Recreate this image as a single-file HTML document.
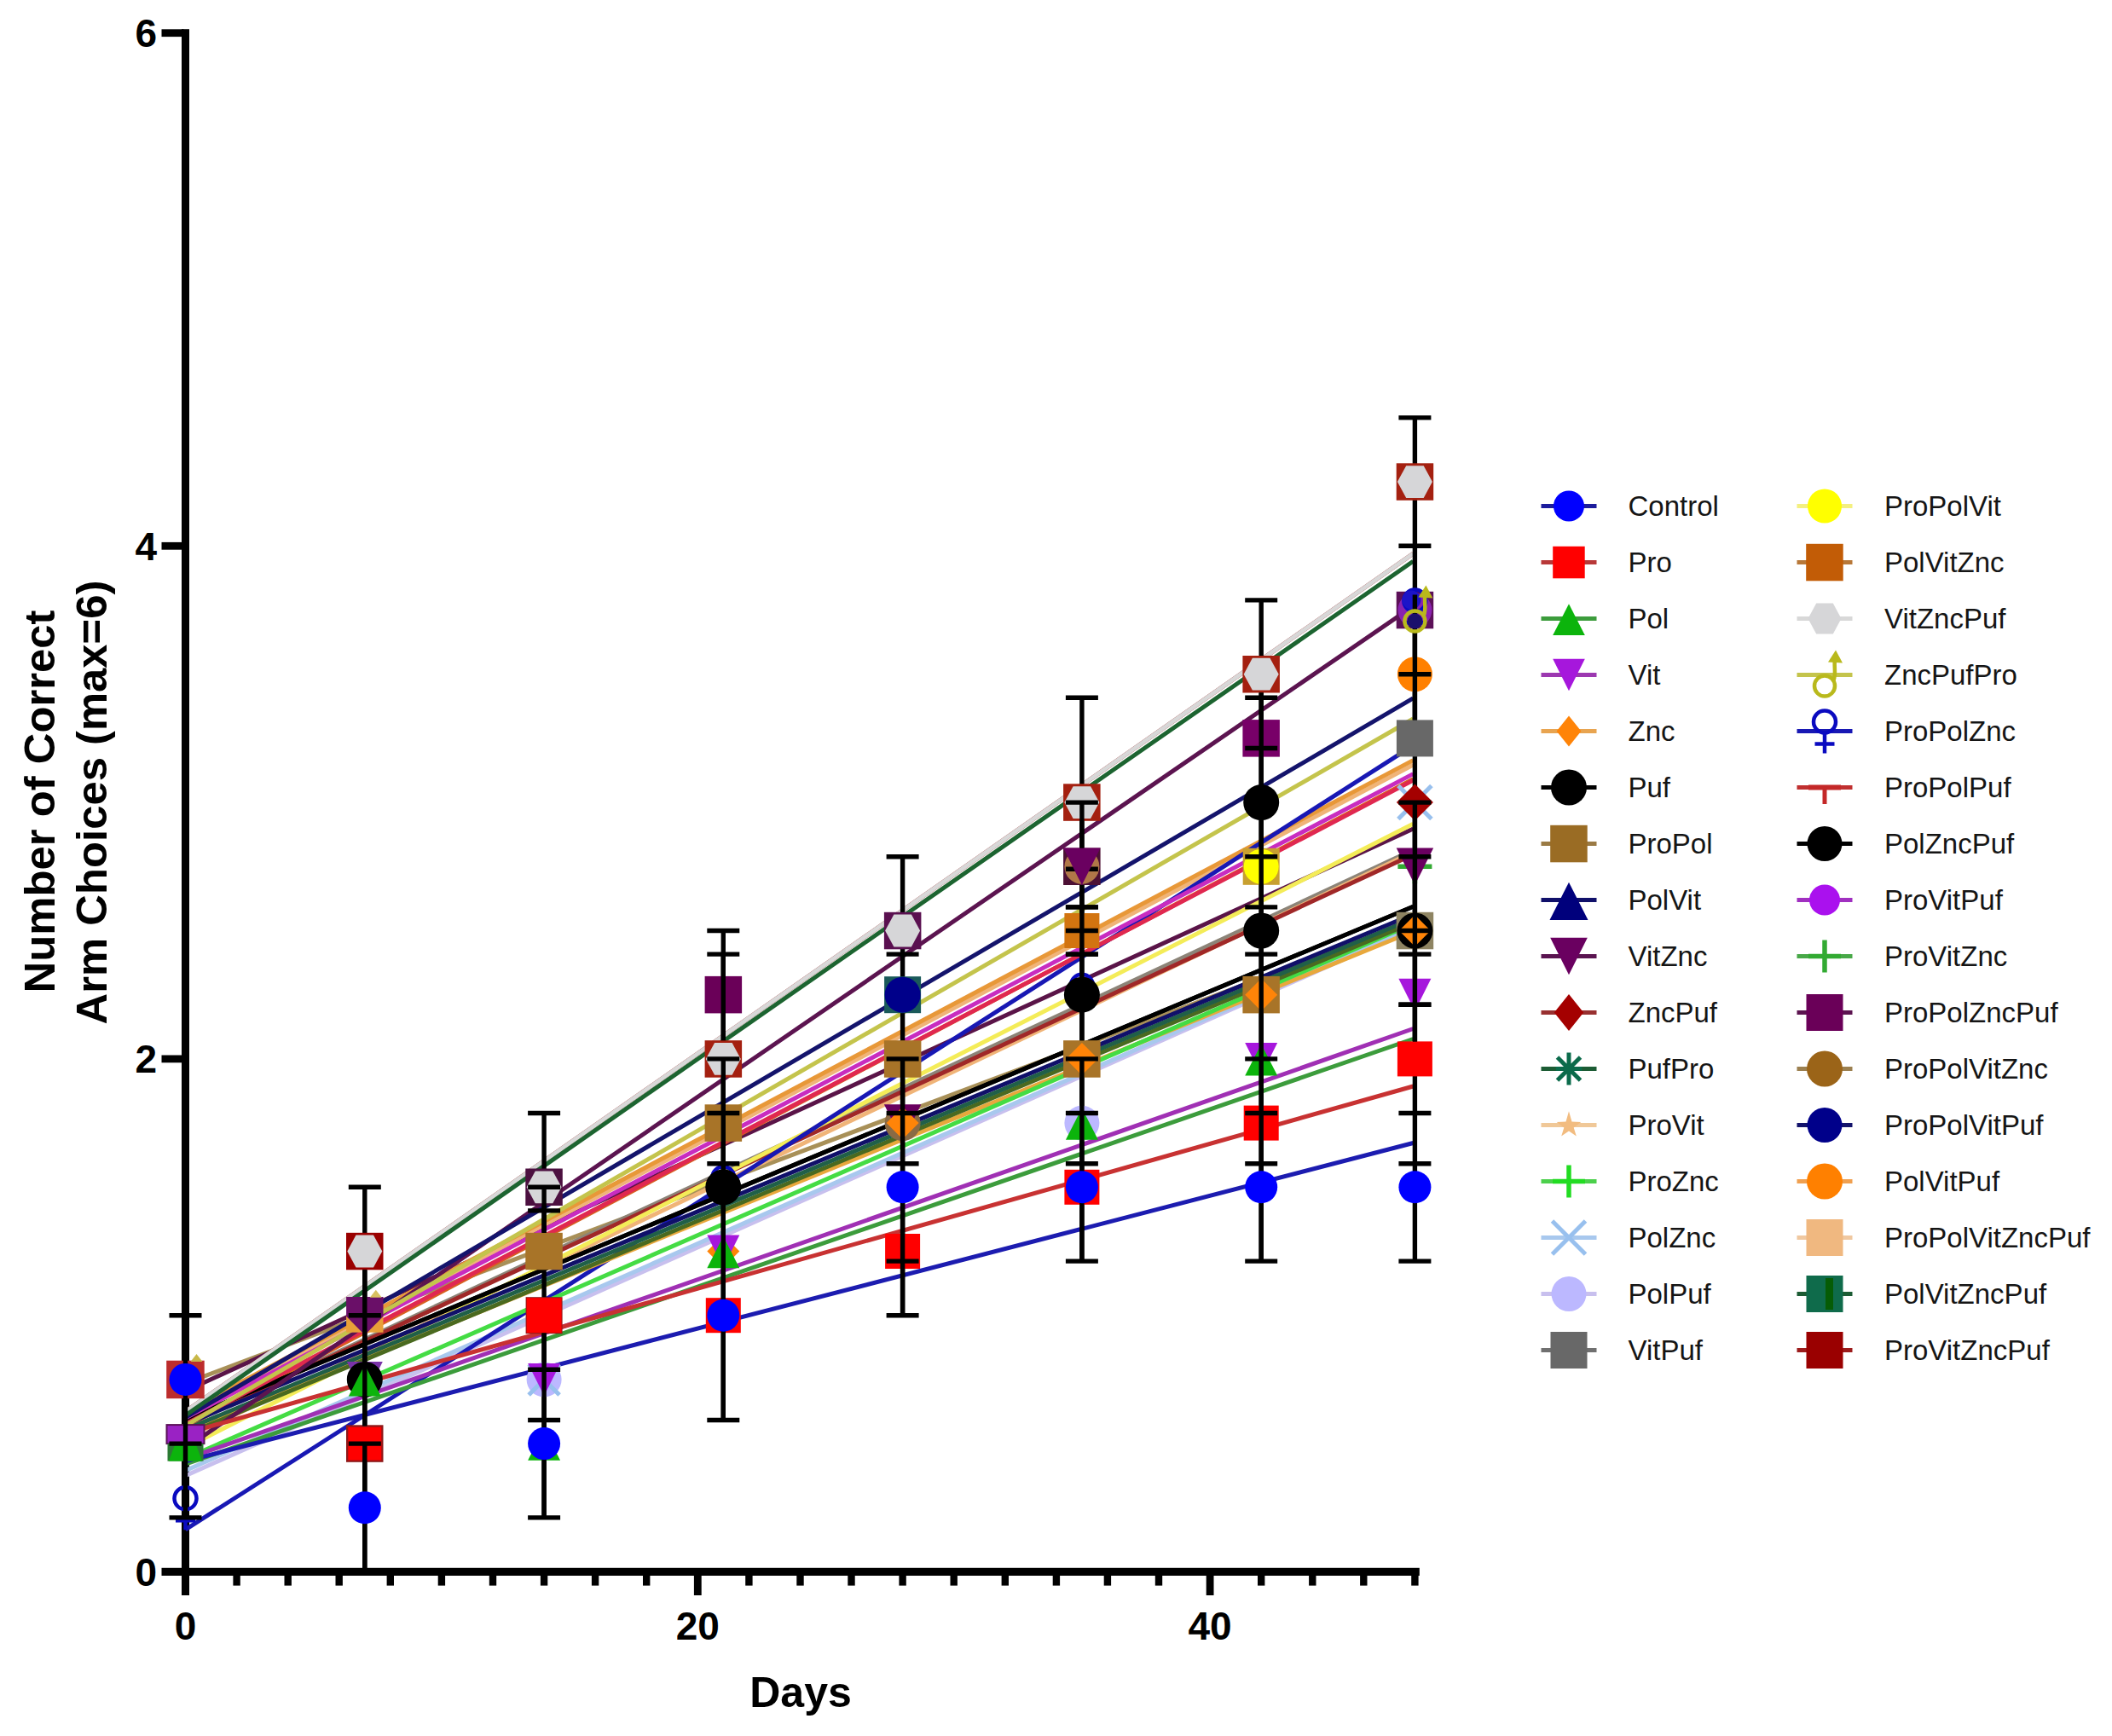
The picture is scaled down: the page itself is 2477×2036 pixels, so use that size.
<!DOCTYPE html>
<html lang="en"><head><meta charset="utf-8"><title>Number of Correct Arm Choices</title>
<style>html,body{margin:0;padding:0;background:#fff}svg{display:block}</style></head>
<body>
<svg width="2477" height="2036" viewBox="0 0 2477 2036" font-family="'Liberation Sans', Arial, sans-serif">
<rect width="2477" height="2036" fill="#ffffff"/>
<g fill="#000">
<rect x="213" y="34.2" width="9" height="1836.8"/>
<rect x="189.5" y="1838.8" width="1475.3" height="9.2"/>
<rect x="189.5" y="1237.5" width="26" height="8.8"/>
<rect x="189.5" y="635.9" width="26" height="8.8"/>
<rect x="189.5" y="34.3" width="26" height="8.8"/>
<rect x="273.4" y="1846" width="8.4" height="13.6"/>
<rect x="333.5" y="1846" width="8.4" height="13.6"/>
<rect x="393.5" y="1846" width="8.4" height="13.6"/>
<rect x="453.6" y="1846" width="8.4" height="13.6"/>
<rect x="513.7" y="1846" width="8.4" height="13.6"/>
<rect x="573.8" y="1846" width="8.4" height="13.6"/>
<rect x="633.9" y="1846" width="8.4" height="13.6"/>
<rect x="693.9" y="1846" width="8.4" height="13.6"/>
<rect x="754" y="1846" width="8.4" height="13.6"/>
<rect x="813.9" y="1846" width="8.8" height="25"/>
<rect x="874.2" y="1846" width="8.4" height="13.6"/>
<rect x="934.3" y="1846" width="8.4" height="13.6"/>
<rect x="994.3" y="1846" width="8.4" height="13.6"/>
<rect x="1054.4" y="1846" width="8.4" height="13.6"/>
<rect x="1114.5" y="1846" width="8.4" height="13.6"/>
<rect x="1174.6" y="1846" width="8.4" height="13.6"/>
<rect x="1234.7" y="1846" width="8.4" height="13.6"/>
<rect x="1294.7" y="1846" width="8.4" height="13.6"/>
<rect x="1354.8" y="1846" width="8.4" height="13.6"/>
<rect x="1414.7" y="1846" width="8.8" height="25"/>
<rect x="1475" y="1846" width="8.4" height="13.6"/>
<rect x="1535.1" y="1846" width="8.4" height="13.6"/>
<rect x="1595.1" y="1846" width="8.4" height="13.6"/>
<rect x="1655.2" y="1846" width="8.4" height="13.6"/>
</g>
<g font-weight="bold" font-size="46" fill="#000">
<text x="184" y="1860" text-anchor="end">0</text>
<text x="184" y="1258.4" text-anchor="end">2</text>
<text x="184" y="656.8" text-anchor="end">4</text>
<text x="184" y="55.2" text-anchor="end">6</text>
<text x="217.5" y="1922.5" text-anchor="middle">0</text>
<text x="818.3" y="1922.5" text-anchor="middle">20</text>
<text x="1419.1" y="1922.5" text-anchor="middle">40</text>
</g>
<text x="939" y="2002" text-anchor="middle" font-weight="bold" font-size="50" fill="#000">Days</text>
<g font-weight="bold" font-size="50.8" fill="#000" text-anchor="middle">
<text transform="translate(64,940) rotate(-90)">Number of Correct</text>
<text transform="translate(124.5,941) rotate(-90)">Arm Choices (max=6)</text>
</g>
<g fill="none" stroke-linecap="butt">
<line x1="217.5" y1="1622.4" x2="1657.4" y2="1080.2" stroke="#a89058" stroke-width="5.0"/>
<line x1="217.5" y1="1669" x2="1657.4" y2="996.8" stroke="#8c8478" stroke-width="5.0"/>
<line x1="217.5" y1="1687.1" x2="1657.4" y2="999.2" stroke="#f0b478" stroke-width="5.0"/>
<line x1="217.5" y1="1631.4" x2="1657.4" y2="972.1" stroke="#5a1448" stroke-width="5.0"/>
<line x1="217.5" y1="1730.7" x2="1657.4" y2="1088.8" stroke="#c8c0ee" stroke-width="5.0"/>
<line x1="217.5" y1="1724.7" x2="1657.4" y2="1087" stroke="#a8c8ee" stroke-width="5.0"/>
<line x1="217.5" y1="1673.5" x2="1657.4" y2="913.6" stroke="#d86020" stroke-width="5.0"/>
<line x1="217.5" y1="1659.4" x2="1657.4" y2="897" stroke="#f0b478" stroke-width="5.0"/>
<line x1="217.5" y1="1655.5" x2="1657.4" y2="891.6" stroke="#e89838" stroke-width="5.0"/>
<line x1="217.5" y1="1670.5" x2="1657.4" y2="1002.2" stroke="#a02828" stroke-width="5.0"/>
<line x1="217.5" y1="1697.9" x2="1657.4" y2="966.2" stroke="#f4ec58" stroke-width="5.0"/>
<line x1="217.5" y1="1793.9" x2="1657.4" y2="874.4" stroke="#1818b4" stroke-width="5.0"/>
<line x1="217.5" y1="1679.3" x2="1657.4" y2="1092.3" stroke="#e8a83c" stroke-width="5.0"/>
<line x1="217.5" y1="1710.5" x2="1657.4" y2="1083.3" stroke="#44dc44" stroke-width="5.0"/>
<line x1="217.5" y1="1682.6" x2="1657.4" y2="1081.8" stroke="#4a6a20" stroke-width="5.0"/>
<line x1="217.5" y1="1676.6" x2="1657.4" y2="1077.3" stroke="#206048" stroke-width="5.0"/>
<line x1="217.5" y1="1670.5" x2="1657.4" y2="1072.2" stroke="#10106a" stroke-width="5.0"/>
<line x1="217.5" y1="1664.2" x2="1657.4" y2="1063.2" stroke="#000000" stroke-width="5.0"/>
<line x1="217.5" y1="1664.2" x2="1657.4" y2="1063.2" stroke="#000000" stroke-width="5.0"/>
<line x1="217.5" y1="1663" x2="1657.4" y2="907.6" stroke="#c82cc0" stroke-width="5.0"/>
<line x1="217.5" y1="1670.2" x2="1657.4" y2="915.1" stroke="#e02850" stroke-width="5.0"/>
<line x1="217.5" y1="1698.5" x2="1657.4" y2="710.9" stroke="#5c1450" stroke-width="5.0"/>
<line x1="217.5" y1="1672" x2="1657.4" y2="843" stroke="#c4c44c" stroke-width="5.0"/>
<line x1="217.5" y1="1662.4" x2="1657.4" y2="818.9" stroke="#14146c" stroke-width="5.0"/>
<line x1="217.5" y1="1655.5" x2="1657.4" y2="649.2" stroke="#9c1c1c" stroke-width="5.0"/>
<line x1="217.5" y1="1655.5" x2="1657.4" y2="649.2" stroke="#d8d8d8" stroke-width="5.0"/>
<line x1="217.5" y1="1660" x2="1657.4" y2="658.2" stroke="#1c6430" stroke-width="5.0"/>
<line x1="217.5" y1="1711.1" x2="1657.4" y2="1206.5" stroke="#a030b4" stroke-width="5.0"/>
<line x1="217.5" y1="1717.2" x2="1657.4" y2="1218.5" stroke="#3c9c3c" stroke-width="5.0"/>
<line x1="217.5" y1="1681.1" x2="1657.4" y2="1274" stroke="#c83232" stroke-width="5.0"/>
<line x1="217.5" y1="1713.9" x2="1657.4" y2="1340.5" stroke="#1c1cb0" stroke-width="5.0"/>
</g>
<rect x="195.5" y="1671.1" width="44" height="22" fill="#9a22c4"/>
<rect x="195.5" y="1671.1" width="44" height="22" fill="none" stroke="#5a1058" stroke-width="2"/>
<rect x="196.5" y="1693.1" width="42" height="20.5" fill="#2c7a34"/>
<polygon points="205.5,1693.1 229.5,1693.1 237,1713.6 198,1713.6" fill="#0cb40c"/>
<rect x="195.2" y="1595.7" width="44.5" height="44.5" fill="#bc2c2c"/>
<polygon points="230.5,1587.9 237.5,1596.9 223.5,1596.9" fill="#c8b848"/>
<g stroke="#0a0ac0" stroke-width="4.5" fill="none"><circle cx="217.5" cy="1757.3" r="13"/><line x1="217.5" y1="1770.3" x2="217.5" y2="1794.3"/><line x1="206" y1="1783.3" x2="229" y2="1783.3"/></g>
<g stroke="#000" stroke-width="5.4"><line x1="217.5" y1="1779.9" x2="217.5" y2="1542.7"/><line x1="198.5" y1="1779.9" x2="236.5" y2="1779.9"/><line x1="198.5" y1="1693.1" x2="236.5" y2="1693.1"/><line x1="198.5" y1="1542.7" x2="236.5" y2="1542.7"/></g>
<circle cx="217.5" cy="1617.9" r="19" fill="#0000ff"/>
<g stroke="#000" stroke-width="5.4"><line x1="427.8" y1="1843.5" x2="427.8" y2="1392.3"/><line x1="408.8" y1="1392.3" x2="446.8" y2="1392.3"/></g>
<rect x="406.1" y="1542.7" width="43.4" height="20" fill="#e8a038"/>
<polygon points="406.1,1521 449.5,1521 449.5,1543.7 427.8,1565.7 406.1,1543.7" fill="#6a0f68"/>
<polygon points="440.8,1512.7 447.8,1521.7 433.8,1521.7" fill="#d8c060"/>
<rect x="406" y="1445.8" width="43.5" height="43.5" fill="#9a0000"/>
<polygon points="407.3,1467.5 417.5,1448.6 438,1448.6 448.3,1467.5 438,1486.4 417.5,1486.4" fill="#d6d6d8"/>
<polygon points="406.8,1596.9 448.8,1596.9 427.8,1638.9" fill="#7a32a8"/>
<circle cx="427.8" cy="1617.9" r="21" fill="#000000"/>
<polygon points="427.8,1600.4 446.8,1637.6 408.8,1637.6" fill="#0cb40c"/>
<rect x="406" y="1671.3" width="43.5" height="43.5" fill="#8e1818"/>
<rect x="408.3" y="1673.6" width="39" height="39" fill="#ff0000"/>
<g stroke="#000" stroke-width="5.4"><line x1="427.8" y1="1843.5" x2="427.8" y2="1693.1"/><line x1="427.8" y1="1672.6" x2="427.8" y2="1489.2"/><line x1="408.8" y1="1542.7" x2="446.8" y2="1542.7"/><line x1="408.8" y1="1693.1" x2="446.8" y2="1693.1"/></g>
<circle cx="427.8" cy="1768.3" r="19" fill="#0000ff"/>
<g stroke="#000" stroke-width="5.4"><line x1="638.1" y1="1779.9" x2="638.1" y2="1305.5"/><line x1="619.1" y1="1305.5" x2="657.1" y2="1305.5"/><line x1="619.1" y1="1419.9" x2="657.1" y2="1419.9"/><line x1="619.1" y1="1665.5" x2="657.1" y2="1665.5"/><line x1="619.1" y1="1779.9" x2="657.1" y2="1779.9"/></g>
<rect x="616.3" y="1370.5" width="43.5" height="43.5" fill="#4c1040"/>
<polygon points="617.6,1392.3 627.8,1373.4 648.3,1373.4 658.6,1392.3 648.3,1411.2 627.8,1411.2" fill="#d6d6d8"/>
<rect x="616.3" y="1445.8" width="43.5" height="43.5" fill="#a87428"/>
<rect x="616.6" y="1521.2" width="43" height="43" fill="#8e1818"/>
<rect x="617.6" y="1522.2" width="41" height="41" fill="#ff0000"/>
<circle cx="638.1" cy="1617.9" r="20.5" fill="#bcb8ff"/>
<g stroke="#98c0ee" stroke-width="5"><line x1="620.1" y1="1599.9" x2="656.1" y2="1635.9"/><line x1="620.1" y1="1635.9" x2="656.1" y2="1599.9"/></g>
<polygon points="619.1,1598.9 657.1,1598.9 638.1,1636.9" fill="#a617dc"/>
<polygon points="638.1,1675.6 657.1,1712.8 619.1,1712.8" fill="#0cb40c"/>
<g stroke="#000" stroke-width="5.4"><line x1="638.1" y1="1445.8" x2="638.1" y2="1392.3"/><line x1="638.1" y1="1779.9" x2="638.1" y2="1563.2"/><line x1="619.1" y1="1392.3" x2="657.1" y2="1392.3"/><line x1="619.1" y1="1606.3" x2="657.1" y2="1606.3"/></g>
<circle cx="638.1" cy="1693.1" r="19" fill="#0000ff"/>
<g stroke="#000" stroke-width="5.4"><line x1="848.3" y1="1665.5" x2="848.3" y2="1091.5"/><line x1="829.3" y1="1091.5" x2="867.3" y2="1091.5"/><line x1="829.3" y1="1119.1" x2="867.3" y2="1119.1"/><line x1="829.3" y1="1665.5" x2="867.3" y2="1665.5"/></g>
<rect x="826.6" y="1144.9" width="43.5" height="43.5" fill="#6a0058"/>
<rect x="826.6" y="1220.2" width="43.5" height="43.5" fill="#a42010"/>
<polygon points="827.8,1241.9 838.1,1223 858.6,1223 868.8,1241.9 858.6,1260.8 838.1,1260.8" fill="#d6d6d8"/>
<rect x="826.6" y="1295.3" width="43.5" height="43.5" fill="#a87428"/>
<circle cx="848.3" cy="1381.3" r="13" stroke="#0a0ac0" stroke-width="4.5" fill="none"/>
<circle cx="848.3" cy="1392.3" r="21" fill="#000000"/>
<polygon points="848.3,1448.5 867.3,1467.5 848.3,1486.5 829.3,1467.5" fill="#ff8408"/>
<polygon points="829.3,1448.5 867.3,1448.5 848.3,1486.5" fill="#a617dc"/>
<polygon points="848.3,1450 867.3,1487.2 829.3,1487.2" fill="#0cb40c"/>
<rect x="827.8" y="1522.2" width="41" height="41" fill="#ff0000"/>
<g stroke="#000" stroke-width="5.4"><line x1="848.3" y1="1665.5" x2="848.3" y2="1241.9"/><line x1="848.3" y1="1220.2" x2="848.3" y2="1119.1"/><line x1="829.3" y1="1241.9" x2="867.3" y2="1241.9"/><line x1="829.3" y1="1305.5" x2="867.3" y2="1305.5"/><line x1="829.3" y1="1364.7" x2="867.3" y2="1364.7"/></g>
<circle cx="848.3" cy="1542.7" r="19" fill="#0000ff"/>
<g stroke="#000" stroke-width="5.4"><line x1="1058.6" y1="1542.7" x2="1058.6" y2="1004.7"/><line x1="1039.6" y1="1004.7" x2="1077.6" y2="1004.7"/><line x1="1039.6" y1="1119.1" x2="1077.6" y2="1119.1"/><line x1="1039.6" y1="1542.7" x2="1077.6" y2="1542.7"/></g>
<rect x="1036.9" y="1069.8" width="43.5" height="43.5" fill="#5a1050"/>
<polygon points="1038.1,1091.5 1048.4,1072.6 1068.9,1072.6 1079.1,1091.5 1068.9,1110.4 1048.4,1110.4" fill="#d6d6d8"/>
<rect x="1037.1" y="1145.2" width="43" height="43" fill="#1a5a5a"/>
<circle cx="1058.6" cy="1166.7" r="21" fill="#00008a"/>
<rect x="1036.9" y="1220.2" width="43.5" height="43.5" fill="#a87428"/>
<circle cx="1058.6" cy="1317.1" r="21" fill="#8a6a44"/>
<polygon points="1036.9,1295.3 1080.4,1295.3 1058.6,1338.8" fill="#6a0060"/>
<polygon points="1058.6,1298.1 1077.6,1317.1 1058.6,1336.1 1039.6,1317.1" fill="#ff8408"/>
<rect x="1038.1" y="1447" width="41" height="41" fill="#ff0000"/>
<g stroke="#000" stroke-width="5.4"><line x1="1058.6" y1="1542.7" x2="1058.6" y2="1241.9"/><line x1="1039.6" y1="1241.9" x2="1077.6" y2="1241.9"/><line x1="1039.6" y1="1305.5" x2="1077.6" y2="1305.5"/><line x1="1039.6" y1="1364.7" x2="1077.6" y2="1364.7"/><line x1="1039.6" y1="1479.1" x2="1077.6" y2="1479.1"/></g>
<circle cx="1058.6" cy="1392.3" r="19" fill="#0000ff"/>
<g stroke="#000" stroke-width="5.4"><line x1="1268.9" y1="1479.1" x2="1268.9" y2="818.3"/><line x1="1249.9" y1="818.3" x2="1287.9" y2="818.3"/><line x1="1249.9" y1="1063.9" x2="1287.9" y2="1063.9"/><line x1="1249.9" y1="1119.1" x2="1287.9" y2="1119.1"/><line x1="1249.9" y1="1479.1" x2="1287.9" y2="1479.1"/></g>
<rect x="1247.1" y="919.3" width="43.5" height="43.5" fill="#a42010"/>
<polygon points="1248.4,941.1 1258.6,922.2 1279.1,922.2 1289.4,941.1 1279.1,960 1258.6,960" fill="#d6d6d8"/>
<rect x="1247.1" y="994.5" width="43.5" height="43.5" fill="#4c1034"/>
<circle cx="1268.9" cy="1016.3" r="20.5" fill="#b07848"/>
<g stroke="#000" stroke-width="5.4"><line x1="1249.9" y1="1019.3" x2="1287.9" y2="1019.3"/></g>
<polygon points="1247.1,994.5 1290.6,994.5 1268.9,1038" fill="#6a0060"/>
<rect x="1248.4" y="1071" width="41" height="41" fill="#d27410"/>
<circle cx="1268.9" cy="1155.7" r="13" stroke="#0a0ac0" stroke-width="4.5" fill="none"/>
<circle cx="1268.9" cy="1166.7" r="21" fill="#000000"/>
<rect x="1247.1" y="1220.2" width="43.5" height="43.5" fill="#a87428"/>
<polygon points="1268.9,1222.9 1287.9,1241.9 1268.9,1260.9 1249.9,1241.9" fill="#ff8408"/>
<circle cx="1268.9" cy="1317.1" r="20.5" fill="#bcb8ff"/>
<polygon points="1268.9,1299.6 1287.9,1336.8 1249.9,1336.8" fill="#0cb40c"/>
<rect x="1248.4" y="1371.8" width="41" height="41" fill="#ff0000"/>
<g stroke="#000" stroke-width="5.4"><line x1="1268.9" y1="1479.1" x2="1268.9" y2="1241.9"/><line x1="1268.9" y1="1220.2" x2="1268.9" y2="1038"/><line x1="1268.9" y1="994.6" x2="1268.9" y2="941.1"/><line x1="1249.9" y1="941.1" x2="1287.9" y2="941.1"/><line x1="1249.9" y1="1063.9" x2="1287.9" y2="1063.9"/><line x1="1249.9" y1="1091.5" x2="1287.9" y2="1091.5"/><line x1="1249.9" y1="1119.1" x2="1287.9" y2="1119.1"/><line x1="1249.9" y1="1241.9" x2="1287.9" y2="1241.9"/><line x1="1249.9" y1="1305.5" x2="1287.9" y2="1305.5"/><line x1="1249.9" y1="1364.7" x2="1287.9" y2="1364.7"/></g>
<circle cx="1268.9" cy="1392.3" r="19" fill="#0000ff"/>
<g stroke="#000" stroke-width="5.4"><line x1="1479.2" y1="1479.1" x2="1479.2" y2="703.9"/><line x1="1460.2" y1="703.9" x2="1498.2" y2="703.9"/><line x1="1460.2" y1="818.3" x2="1498.2" y2="818.3"/><line x1="1460.2" y1="1479.1" x2="1498.2" y2="1479.1"/></g>
<rect x="1457.4" y="769" width="43.5" height="43.5" fill="#a42010"/>
<polygon points="1458.7,790.7 1468.9,771.8 1489.4,771.8 1499.7,790.7 1489.4,809.6 1468.9,809.6" fill="#d6d6d8"/>
<rect x="1457.4" y="844.1" width="43.5" height="43.5" fill="#780068"/>
<circle cx="1479.2" cy="941.1" r="21" fill="#000000"/>
<rect x="1457.7" y="994.8" width="43" height="43" fill="#c8a030"/>
<circle cx="1479.2" cy="1016.3" r="20.5" fill="#ffff00"/>
<circle cx="1479.2" cy="1091.5" r="21" fill="#000000"/>
<rect x="1457.4" y="1144.9" width="43.5" height="43.5" fill="#a87428"/>
<polygon points="1479.2,1147.7 1498.2,1166.7 1479.2,1185.7 1460.2,1166.7" fill="#ff8408"/>
<polygon points="1460.2,1222.9 1498.2,1222.9 1479.2,1260.9" fill="#a617dc"/>
<polygon points="1479.2,1224.4 1498.2,1261.6 1460.2,1261.6" fill="#0cb40c"/>
<rect x="1458.7" y="1296.6" width="41" height="41" fill="#ff0000"/>
<g stroke="#000" stroke-width="5.4"><line x1="1479.2" y1="1479.1" x2="1479.2" y2="812.4"/><line x1="1460.2" y1="877.5" x2="1498.2" y2="877.5"/><line x1="1460.2" y1="1004.7" x2="1498.2" y2="1004.7"/><line x1="1460.2" y1="1063.9" x2="1498.2" y2="1063.9"/><line x1="1460.2" y1="1119.1" x2="1498.2" y2="1119.1"/><line x1="1460.2" y1="1241.9" x2="1498.2" y2="1241.9"/><line x1="1460.2" y1="1305.5" x2="1498.2" y2="1305.5"/><line x1="1460.2" y1="1364.7" x2="1498.2" y2="1364.7"/></g>
<circle cx="1479.2" cy="1392.3" r="19" fill="#0000ff"/>
<g stroke="#000" stroke-width="5.4"><line x1="1659.4" y1="1479.1" x2="1659.4" y2="489.9"/><line x1="1640.4" y1="489.9" x2="1678.4" y2="489.9"/><line x1="1640.4" y1="640.3" x2="1678.4" y2="640.3"/><line x1="1640.4" y1="1119.1" x2="1678.4" y2="1119.1"/><line x1="1640.4" y1="1178.3" x2="1678.4" y2="1178.3"/><line x1="1640.4" y1="1305.5" x2="1678.4" y2="1305.5"/><line x1="1640.4" y1="1364.7" x2="1678.4" y2="1364.7"/><line x1="1640.4" y1="1479.1" x2="1678.4" y2="1479.1"/></g>
<rect x="1637.7" y="543.3" width="43.5" height="43.5" fill="#a42010"/>
<polygon points="1638.9,565.1 1649.2,546.2 1669.7,546.2 1679.9,565.1 1669.7,584 1649.2,584" fill="#d6d6d8"/>
<rect x="1637.7" y="693.8" width="43.5" height="43.5" fill="#5c1058"/>
<circle cx="1659.4" cy="715.5" r="20" fill="#8a22b0"/>
<g stroke="#0a0ac0" stroke-width="4.5" fill="none"><circle cx="1659.4" cy="704.5" r="13"/><line x1="1659.4" y1="717.5" x2="1659.4" y2="741.5"/><line x1="1647.9" y1="730.5" x2="1670.9" y2="730.5"/></g>
<circle cx="1655.4" cy="703.5" r="11" fill="#1c14c8"/>
<circle cx="1659.4" cy="790.7" r="20.5" fill="#ff8000"/>
<rect x="1637.9" y="844.4" width="43" height="43" fill="#686868"/>
<g stroke="#98c0ee" stroke-width="5"><line x1="1639.9" y1="921.6" x2="1678.9" y2="960.6"/><line x1="1639.9" y1="960.6" x2="1678.9" y2="921.6"/></g>
<polygon points="1659.4,919.6 1680.9,941.1 1659.4,962.6 1637.9,941.1" fill="#a40000"/>
<g stroke="#32aa32" stroke-width="5.5"><line x1="1659.4" y1="996.3" x2="1659.4" y2="1036.3"/><line x1="1639.4" y1="1016.3" x2="1679.4" y2="1016.3"/></g>
<polygon points="1637.7,994.5 1681.2,994.5 1659.4,1038" fill="#6a0060"/>
<rect x="1637.7" y="1069.8" width="43.5" height="43.5" fill="#8e8462"/>
<circle cx="1659.4" cy="1091.5" r="21" fill="#000000"/>
<polygon points="1659.4,1073 1677.9,1091.5 1659.4,1110 1640.9,1091.5" fill="#ff8408"/>
<polygon points="1640.4,1147.7 1678.4,1147.7 1659.4,1185.7" fill="#a617dc"/>
<rect x="1638.9" y="1221.4" width="41" height="41" fill="#ff0000"/>
<g stroke="#000" stroke-width="5.4"><line x1="1659.4" y1="1221.4" x2="1659.4" y2="941.1"/><line x1="1659.4" y1="844.2" x2="1659.4" y2="697.5"/><line x1="1640.4" y1="790.7" x2="1678.4" y2="790.7"/><line x1="1640.4" y1="941.1" x2="1678.4" y2="941.1"/><line x1="1640.4" y1="1004.7" x2="1678.4" y2="1004.7"/><line x1="1640.4" y1="1091.5" x2="1678.4" y2="1091.5"/><line x1="1640.4" y1="1178.3" x2="1678.4" y2="1178.3"/></g>
<g stroke="#b9b91c" stroke-width="4.5" fill="none" stroke-linecap="round"><circle cx="1659.4" cy="728.5" r="12"/><path d="M1669.9,721.5 C1673.4,713.5 1669.4,703.5 1671.9,694.5"/><polygon points="1672.4,686.5 1680.4,701.5 1663.4,700.5" fill="#b9b91c" stroke="none"/></g>
<circle cx="1659.4" cy="728.5" r="9" fill="#1a106c"/>
<circle cx="1659.4" cy="1392.3" r="19" fill="#0000ff"/>
<g>
<line x1="1807.5" y1="593.5" x2="1872.5" y2="593.5" stroke="#1c1c9c" stroke-width="5"/>
<circle cx="1840" cy="593.5" r="18" fill="#0000ff"/>
<text x="1909.5" y="605" font-size="33" fill="#151515">Control</text>
<line x1="1807.5" y1="659.5" x2="1872.5" y2="659.5" stroke="#b83838" stroke-width="5"/>
<rect x="1821.2" y="640.8" width="37.5" height="37.5" fill="#ff0000"/>
<text x="1909.5" y="671" font-size="33" fill="#151515">Pro</text>
<line x1="1807.5" y1="725.5" x2="1872.5" y2="725.5" stroke="#3c9c3c" stroke-width="5"/>
<polygon points="1840,708.2 1858.8,745 1821.2,745" fill="#0cb40c"/>
<text x="1909.5" y="737" font-size="33" fill="#151515">Pol</text>
<line x1="1807.5" y1="791.5" x2="1872.5" y2="791.5" stroke="#9c38b0" stroke-width="5"/>
<polygon points="1821.2,772.8 1858.8,772.8 1840,810.2" fill="#a617dc"/>
<text x="1909.5" y="803" font-size="33" fill="#151515">Vit</text>
<line x1="1807.5" y1="857.5" x2="1872.5" y2="857.5" stroke="#e8a450" stroke-width="5"/>
<polygon points="1840,839.5 1854.4,857.5 1840,875.5 1825.6,857.5" fill="#ff8408"/>
<text x="1909.5" y="869" font-size="33" fill="#151515">Znc</text>
<line x1="1807.5" y1="923.5" x2="1872.5" y2="923.5" stroke="#000000" stroke-width="5"/>
<circle cx="1840" cy="923.5" r="21" fill="#000000"/>
<text x="1909.5" y="935" font-size="33" fill="#151515">Puf</text>
<line x1="1807.5" y1="989.5" x2="1872.5" y2="989.5" stroke="#9a7a44" stroke-width="5"/>
<rect x="1818.2" y="967.8" width="43.5" height="43.5" fill="#9a6c24"/>
<text x="1909.5" y="1001" font-size="33" fill="#151515">ProPol</text>
<line x1="1807.5" y1="1055.5" x2="1872.5" y2="1055.5" stroke="#10106a" stroke-width="5"/>
<polygon points="1840,1034.8 1862.5,1078.9 1817.5,1078.9" fill="#00007c"/>
<text x="1909.5" y="1067" font-size="33" fill="#151515">PolVit</text>
<line x1="1807.5" y1="1121.5" x2="1872.5" y2="1121.5" stroke="#5a1450" stroke-width="5"/>
<polygon points="1818.2,1099.8 1861.8,1099.8 1840,1143.2" fill="#6a0060"/>
<text x="1909.5" y="1133" font-size="33" fill="#151515">VitZnc</text>
<line x1="1807.5" y1="1187.5" x2="1872.5" y2="1187.5" stroke="#983030" stroke-width="5"/>
<polygon points="1840,1166 1857.2,1187.5 1840,1209 1822.8,1187.5" fill="#a40000"/>
<text x="1909.5" y="1199" font-size="33" fill="#151515">ZncPuf</text>
<line x1="1807.5" y1="1253.5" x2="1872.5" y2="1253.5" stroke="#1c5c34" stroke-width="5"/>
<g stroke="#0b6b4b" stroke-width="5" fill="#0b6b4b"><line x1="1840" y1="1234.5" x2="1840" y2="1272.5"/><line x1="1824.8" y1="1253.5" x2="1855.2" y2="1253.5"/><line x1="1826.5" y1="1240" x2="1853.5" y2="1267"/><line x1="1826.5" y1="1267" x2="1853.5" y2="1240"/><circle cx="1840" cy="1253.5" r="6.5" stroke="none"/></g>
<text x="1909.5" y="1265" font-size="33" fill="#151515">PufPro</text>
<line x1="1807.5" y1="1319.5" x2="1872.5" y2="1319.5" stroke="#f0c898" stroke-width="5"/>
<polygon points="1840,1303.2 1843.5,1315.6 1854.3,1315.9 1845.7,1322.4 1848.8,1332.6 1840,1326.5 1831.2,1332.6 1834.3,1322.4 1825.7,1315.9 1836.5,1315.6" fill="#f2bc80"/>
<text x="1909.5" y="1331" font-size="33" fill="#151515">ProVit</text>
<line x1="1807.5" y1="1385.5" x2="1872.5" y2="1385.5" stroke="#4cd04c" stroke-width="5"/>
<g stroke="#22dc22" stroke-width="5.5"><line x1="1840" y1="1366.5" x2="1840" y2="1404.5"/><line x1="1821" y1="1385.5" x2="1859" y2="1385.5"/></g>
<text x="1909.5" y="1397" font-size="33" fill="#151515">ProZnc</text>
<line x1="1807.5" y1="1451.5" x2="1872.5" y2="1451.5" stroke="#a8c8ee" stroke-width="5"/>
<g stroke="#98c0ee" stroke-width="5"><line x1="1820.5" y1="1432" x2="1859.5" y2="1471"/><line x1="1820.5" y1="1471" x2="1859.5" y2="1432"/></g>
<text x="1909.5" y="1463" font-size="33" fill="#151515">PolZnc</text>
<line x1="1807.5" y1="1517.5" x2="1872.5" y2="1517.5" stroke="#c8c0ee" stroke-width="5"/>
<circle cx="1840" cy="1517.5" r="20.5" fill="#bcb8ff"/>
<text x="1909.5" y="1529" font-size="33" fill="#151515">PolPuf</text>
<line x1="1807.5" y1="1583.5" x2="1872.5" y2="1583.5" stroke="#707070" stroke-width="5"/>
<rect x="1818.5" y="1562" width="43" height="43" fill="#686868"/>
<text x="1909.5" y="1595" font-size="33" fill="#151515">VitPuf</text>
<line x1="2107.5" y1="593.5" x2="2172.5" y2="593.5" stroke="#f4f080" stroke-width="5"/>
<circle cx="2140" cy="593.5" r="20" fill="#ffff00"/>
<text x="2210" y="605" font-size="33" fill="#151515">ProPolVit</text>
<line x1="2107.5" y1="659.5" x2="2172.5" y2="659.5" stroke="#b87838" stroke-width="5"/>
<rect x="2118.2" y="637.8" width="43.5" height="43.5" fill="#c25c06"/>
<text x="2210" y="671" font-size="33" fill="#151515">PolVitZnc</text>
<line x1="2107.5" y1="725.5" x2="2172.5" y2="725.5" stroke="#d8d8d8" stroke-width="5"/>
<polygon points="2120.5,725.5 2130.2,707.6 2149.8,707.6 2159.5,725.5 2149.8,743.4 2130.2,743.4" fill="#d6d6d8"/>
<text x="2210" y="737" font-size="33" fill="#151515">VitZncPuf</text>
<line x1="2107.5" y1="791.5" x2="2172.5" y2="791.5" stroke="#c4c44c" stroke-width="5"/>
<g stroke="#b9b91c" stroke-width="4.5" fill="none" stroke-linecap="round"><circle cx="2140" cy="804.5" r="12"/><path d="M2150.5,797.5 C2154,789.5 2150,779.5 2152.5,770.5"/><polygon points="2153,762.5 2161,777.5 2144,776.5" fill="#b9b91c" stroke="none"/></g>
<text x="2210" y="803" font-size="33" fill="#151515">ZncPufPro</text>
<line x1="2107.5" y1="857.5" x2="2172.5" y2="857.5" stroke="#1818b4" stroke-width="5"/>
<g stroke="#0a0ac0" stroke-width="4.5" fill="none"><circle cx="2140" cy="846.5" r="13"/><line x1="2140" y1="859.5" x2="2140" y2="883.5"/><line x1="2128.5" y1="872.5" x2="2151.5" y2="872.5"/></g>
<text x="2210" y="869" font-size="33" fill="#151515">ProPolZnc</text>
<line x1="2107.5" y1="923.5" x2="2172.5" y2="923.5" stroke="#c03030" stroke-width="5"/>
<g stroke="#c42828"><line x1="2121" y1="923.5" x2="2159" y2="923.5" stroke-width="6"/><line x1="2140" y1="923.5" x2="2140" y2="943" stroke-width="5"/></g>
<text x="2210" y="935" font-size="33" fill="#151515">ProPolPuf</text>
<line x1="2107.5" y1="989.5" x2="2172.5" y2="989.5" stroke="#000000" stroke-width="5"/>
<circle cx="2140" cy="989.5" r="20.5" fill="#000000"/>
<text x="2210" y="1001" font-size="33" fill="#151515">PolZncPuf</text>
<line x1="2107.5" y1="1055.5" x2="2172.5" y2="1055.5" stroke="#a030c0" stroke-width="5"/>
<circle cx="2140" cy="1055.5" r="18" fill="#aa11ee"/>
<text x="2210" y="1067" font-size="33" fill="#151515">ProVitPuf</text>
<line x1="2107.5" y1="1121.5" x2="2172.5" y2="1121.5" stroke="#48a848" stroke-width="5"/>
<g stroke="#32aa32" stroke-width="5.5"><line x1="2140" y1="1102.5" x2="2140" y2="1140.5"/><line x1="2121" y1="1121.5" x2="2159" y2="1121.5"/></g>
<text x="2210" y="1133" font-size="33" fill="#151515">ProVitZnc</text>
<line x1="2107.5" y1="1187.5" x2="2172.5" y2="1187.5" stroke="#5c1450" stroke-width="5"/>
<rect x="2118.5" y="1166" width="43" height="43" fill="#6a0058"/>
<text x="2210" y="1199" font-size="33" fill="#151515">ProPolZncPuf</text>
<line x1="2107.5" y1="1253.5" x2="2172.5" y2="1253.5" stroke="#9c8050" stroke-width="5"/>
<circle cx="2140" cy="1253.5" r="21" fill="#9b6418"/>
<text x="2210" y="1265" font-size="33" fill="#151515">ProPolVitZnc</text>
<line x1="2107.5" y1="1319.5" x2="2172.5" y2="1319.5" stroke="#14146c" stroke-width="5"/>
<circle cx="2140" cy="1319.5" r="20.5" fill="#00008a"/>
<text x="2210" y="1331" font-size="33" fill="#151515">ProPolVitPuf</text>
<line x1="2107.5" y1="1385.5" x2="2172.5" y2="1385.5" stroke="#f0a050" stroke-width="5"/>
<circle cx="2140" cy="1385.5" r="21" fill="#ff8000"/>
<text x="2210" y="1397" font-size="33" fill="#151515">PolVitPuf</text>
<line x1="2107.5" y1="1451.5" x2="2172.5" y2="1451.5" stroke="#f0c8a0" stroke-width="5"/>
<rect x="2118.5" y="1430" width="43" height="43" fill="#f0b880"/>
<text x="2210" y="1463" font-size="33" fill="#151515">ProPolVitZncPuf</text>
<line x1="2107.5" y1="1517.5" x2="2172.5" y2="1517.5" stroke="#1c5c34" stroke-width="5"/>
<rect x="2118.5" y="1496" width="43" height="43" fill="#0f6b4b"/><rect x="2141" y="1499" width="9" height="37" fill="#065c06"/>
<text x="2210" y="1529" font-size="33" fill="#151515">PolVitZncPuf</text>
<line x1="2107.5" y1="1583.5" x2="2172.5" y2="1583.5" stroke="#9c1c1c" stroke-width="5"/>
<rect x="2118.5" y="1562" width="43" height="43" fill="#9a0000"/>
<text x="2210" y="1595" font-size="33" fill="#151515">ProVitZncPuf</text>
</g>
</svg>
</body></html>
